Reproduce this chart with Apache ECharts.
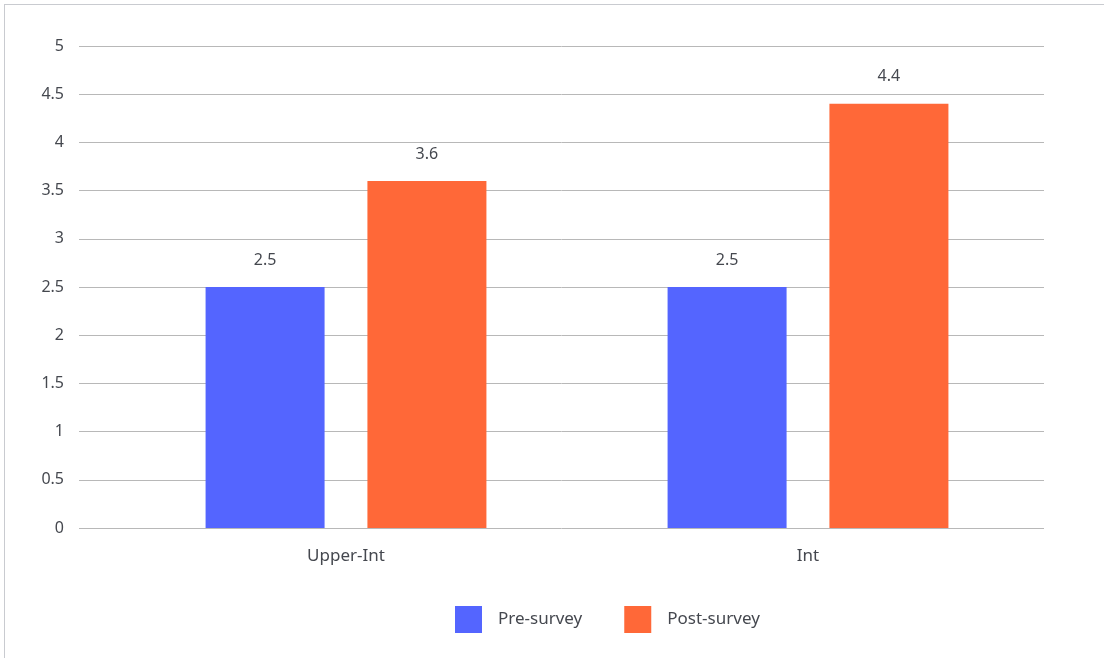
<!DOCTYPE html>
<html>
<head>
<meta charset="utf-8">
<script src="https://cdn.jsdelivr.net/npm/echarts@6/dist/echarts.min.js"></script>
<style>
  html, body { margin: 0; padding: 0; background: #fff; }
  #frame { position: absolute; left: 4px; top: 4px; width: 1100px; height: 654px;
           border-left: 1px solid #c9cbd0; border-top: 1px solid #c9cbd0; }
  #chart { position: absolute; left: 0; top: 0; width: 1104px; height: 658px; }
</style>
</head>
<body>
<div id="frame"></div>
<div id="chart"></div>
<script>
// Survey score averages by class level
const categories = ['Upper-Int', 'Int'];
const preSurvey = [2.5, 2.5];
const postSurvey = [3.6, 4.4];
const seriesNames = ['Pre-survey', 'Post-survey'];
const yTicks = { min: 0, max: 5, step: 0.5 };

const FONT = '"Noto Sans", "Open Sans", sans-serif';
const TEXT = '#45484f';

const chart = echarts.init(document.getElementById('chart'), null, { renderer: 'canvas' });

const labelCfg = {
  show: true, position: 'top', distance: 19,
  color: TEXT, fontSize: 16, fontFamily: FONT
};

chart.setOption({
  animation: false,
  grid: [
    // full-width grid carrying the value gridlines and tick labels
    { left: 79, right: 60, top: 46, bottom: 130 },
    // grid for the bars and category labels
    { left: 115, right: 65, top: 46, bottom: 130 }
  ],
  xAxis: [
    { type: 'category', gridIndex: 0, data: categories, show: false },
    {
      type: 'category', gridIndex: 1, data: categories,
      axisLine: { show: false }, axisTick: { show: false },
      axisLabel: { color: TEXT, fontSize: 17, fontFamily: FONT, margin: 20 }
    }
  ],
  yAxis: [
    {
      type: 'value', gridIndex: 0, min: yTicks.min, max: yTicks.max, interval: yTicks.step,
      axisLine: { show: false }, axisTick: { show: false },
      axisLabel: { color: TEXT, fontSize: 16, fontFamily: FONT, margin: 15 },
      splitLine: { lineStyle: { color: '#b8b8b8', width: 1 } }
    },
    {
      type: 'value', gridIndex: 1, min: yTicks.min, max: yTicks.max, interval: yTicks.step,
      show: false, splitLine: { show: false }
    }
  ],
  legend: {
    top: 601, left: 450,
    itemWidth: 27, itemHeight: 27, itemGap: 42,
    icon: 'rect',
    textStyle: { color: TEXT, fontSize: 17, fontFamily: FONT, padding: [0, 0, 0, 11] },
    data: seriesNames
  },
  series: [
    {
      name: seriesNames[0], type: 'bar', xAxisIndex: 1, yAxisIndex: 1,
      data: preSurvey, barWidth: 119, barGap: '36%',
      itemStyle: { color: '#5465ff' }, label: labelCfg
    },
    {
      name: seriesNames[1], type: 'bar', xAxisIndex: 1, yAxisIndex: 1,
      data: postSurvey, barWidth: 119, barGap: '36%',
      itemStyle: { color: '#ff6838' }, label: labelCfg
    }
  ]
});
</script>
</body>
</html>
